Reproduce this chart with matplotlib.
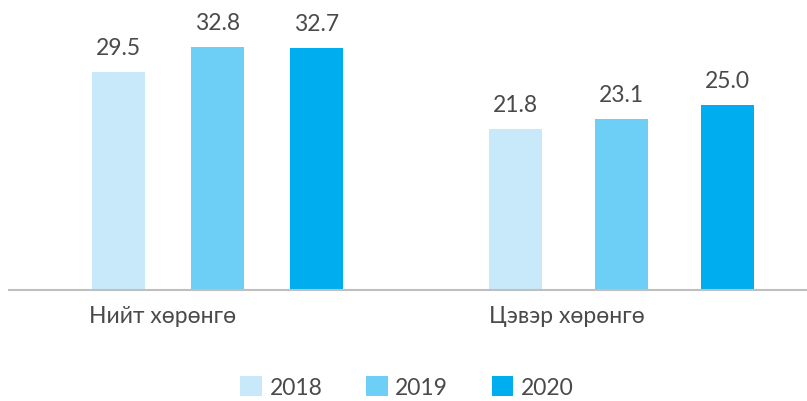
import numpy as np
import matplotlib.pyplot as plt
from matplotlib.patches import Patch

plt.rcParams['font.family'] = ['Lato', 'DejaVu Sans']

# Өгөгдөл
categories = ['Нийт хөрөнгө', 'Цэвэр хөрөнгө']
years = ['2018', '2019', '2020']
values = {
    '2018': [29.5, 21.8],
    '2019': [32.8, 23.1],
    '2020': [32.7, 25.0],
}
colors = ['#c7e9f9', '#6dcff6', '#00aeef']
text_color = '#4a4a4a'

fig = plt.figure(figsize=(8.07, 4.02), dpi=100)
ax = fig.add_axes([9 / 807, 1 - 291 / 402, 797 / 807, (291 - 20) / 402])

x = np.arange(len(categories))
offset = np.array([0.245, 0.262])  # бүлэг бүрийн багана хоорондын зай
width = 0.131

for i, year in enumerate(years):
    pos = x + (i - 1) * offset
    bars = ax.bar(pos, values[year], width=width, color=colors[i], label=year)
    for b, v in zip(bars, values[year]):
        ax.annotate(f'{v:.1f}', (b.get_x() + b.get_width() / 2, v),
                    xytext=(0, 13), textcoords='offset points',
                    ha='center', va='baseline', fontsize=16.5,
                    color=text_color)

ax.set_xlim(-0.516, 1.457)
ax.set_ylim(0, 36.6)

# Ангиллын нэрс
ax.set_xticks(x - 0.135)
ax.set_xticklabels(categories, fontsize=16.5, color=text_color)
ax.tick_params(axis='x', length=0, pad=11)
ax.set_yticks([])

for s in ['top', 'right', 'left']:
    ax.spines[s].set_visible(False)
ax.spines['bottom'].set_color('#bfbfbf')
ax.spines['bottom'].set_linewidth(1.5)

handles = [Patch(facecolor=c, edgecolor='none') for c in colors]
leg = fig.legend(handles, years, loc='center', bbox_to_anchor=(407 / 807, 1 - 388 / 402),
                 ncol=3, frameon=False, fontsize=16.5, handlelength=0.95, handleheight=0.95,
                 handletextpad=0.33, columnspacing=1.9)
for t in leg.get_texts():
    t.set_color(text_color)

fig.savefig('out.png', dpi=100)
